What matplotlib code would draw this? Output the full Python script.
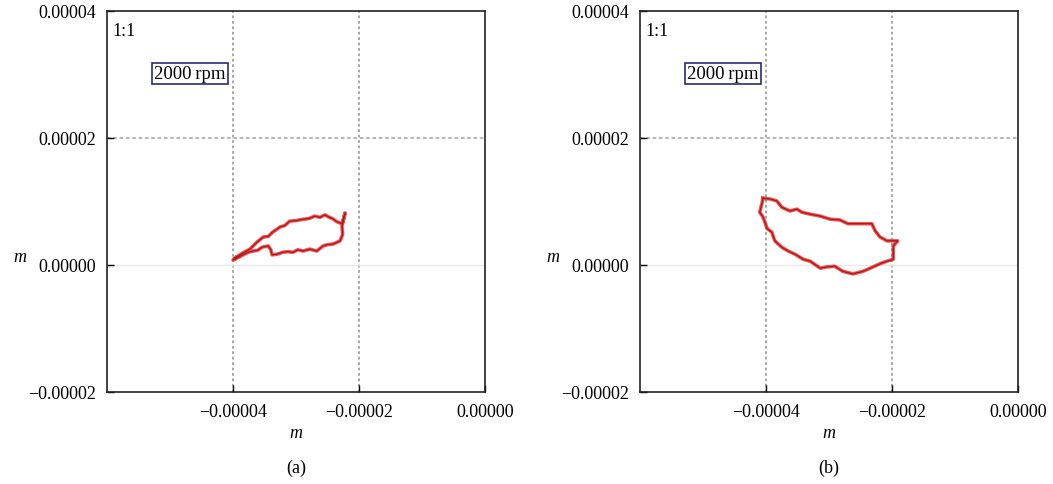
import matplotlib
matplotlib.use("Agg")
import matplotlib.pyplot as plt
import numpy as np

# orbit (a), units of 1e-6 m
xa = [-39.7, -38.6, -37.3, -36.2, -35.2, -34.4, -33.8, -32.5, -31.8, -31.0, -29.9, -28.9, -28.0,
      -27.0, -26.2, -25.4, -24.9, -24.2, -23.5, -22.7, -22.2, -22.7, -22.6, -23.0, -24.1,
      -25.0, -25.7, -26.7, -27.8, -28.9, -29.7, -30.5, -31.3, -32.1, -33.0, -33.8, -34.0,
      -34.4, -35.4, -36.1, -36.8, -37.6, -38.4, -39.7, -40.0, -39.5]
ya = [1.1, 1.8, 2.5, 3.6, 4.4, 4.5, 5.1, 6.0, 6.2, 6.9, 7.0, 7.2, 7.3,
      7.7, 7.5, 7.9, 7.6, 7.3, 6.8, 6.5, 8.2, 6.1, 4.8, 3.8, 3.3,
      3.2, 3.0, 2.2, 2.5, 2.2, 2.4, 2.0, 2.1, 2.0, 1.7, 1.6, 2.4,
      3.0, 2.8, 2.3, 2.2, 2.0, 1.6, 0.9, 0.8, 1.2]

# orbit (b), units of 1e-6 m
xb = [-40.5, -39.4, -38.3, -37.5, -36.2, -35.1, -34.3, -33.0, -31.4, -29.8, -28.3, -27.0,
      -25.1, -23.2, -22.7, -21.9, -20.8, -19.8, -19.1, -19.8, -19.8, -20.8, -21.9, -23.0,
      -24.6, -26.2, -27.8, -29.1, -30.3, -31.4, -33.0, -34.1, -35.4, -36.5, -37.5, -38.6,
      -39.1, -39.8, -40.5, -41.0, -40.6, -40.5]
yb = [10.5, 10.4, 10.1, 9.1, 8.5, 8.8, 8.3, 8.0, 7.7, 7.2, 7.1, 6.5,
      6.5, 6.5, 5.4, 4.4, 3.8, 3.8, 3.8, 3.0, 0.9, 0.6, 0.2, -0.3,
      -1.0, -1.4, -1.0, -0.2, -0.3, -0.5, 0.6, 0.9, 1.7, 2.2, 2.8, 3.8,
      5.2, 5.7, 7.6, 8.3, 9.9, 10.5]

xticks = [-0.00004, -0.00002, 0.0]
yticks = [-0.00002, 0.0, 0.00002, 0.00004]
panels = [("(a)", xa, ya), ("(b)", xb, yb)]

plt.rcParams['font.family'] = ['Liberation Serif', 'DejaVu Serif']

fig = plt.figure(figsize=(10.53, 4.85), dpi=100)
lefts = [0.1016, 0.6078]

def fmt(v):
    s = "%.5f" % abs(v)
    return ("\u2212" + s) if v < 0 else s

for left, (tag, xs, ys) in zip(lefts, panels):
    ax = fig.add_axes([left, 0.1897, 0.359, 0.7856])
    ax.set_xlim(-0.00006, 0.0)
    ax.set_ylim(-0.00002, 0.00004)

    # grid lines
    for gx in [-0.00004, -0.00002]:
        ax.axvline(gx, color='#a0a0a0', lw=1.3, ls=(0, (1.5, 1.5)), zorder=1)
    ax.axhline(0.00002, color='#b0b0b0', lw=1.3, ls=(0, (2, 1.5)), zorder=1)
    ax.axhline(0.0, color='#e8e8e8', lw=1.0, zorder=1)

    x = np.array(xs) * 1e-6
    y = np.array(ys) * 1e-6
    ax.plot(x, y, color='#f03030', lw=2.6, alpha=0.8, solid_joinstyle='round', zorder=3)
    ax.plot(x, y, color='#b01818', lw=1.0, solid_joinstyle='round', zorder=4)

    ax.set_xticks(xticks)
    ax.set_yticks(yticks)
    ax.set_xticklabels([fmt(v) for v in xticks])
    ax.set_yticklabels([fmt(v) for v in yticks])
    ax.tick_params(direction='in', length=5, width=1, labelsize=13, pad=8)
    for sp in ax.spines.values():
        sp.set_linewidth(1.2)
        sp.set_color('#222222')

    ax.set_xlabel("m", fontsize=13, style='italic', labelpad=3)
    ax.set_ylabel("m", fontsize=13, style='italic', rotation=0, va='center')
    ax.yaxis.set_label_coords(-0.23, 0.355)

    ax.text(0.015, 0.95, "1:1", transform=ax.transAxes, fontsize=13, va='center', ha='left')
    ax.text(0.125, 0.835, "2000\u2009rpm", transform=ax.transAxes, fontsize=13.5, va='center',
            ha='left', bbox=dict(boxstyle='square,pad=0.1', fc='white', ec='#2a2a7a', lw=1.2))

    fig.text(left + 0.359 / 2, 0.035, tag, fontsize=13, ha='center', va='center')

fig.savefig("out.png", dpi=100)
